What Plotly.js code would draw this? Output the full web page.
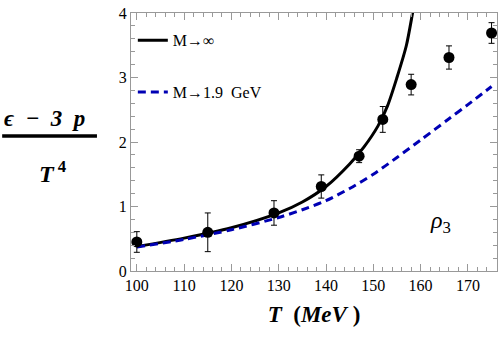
<!DOCTYPE html>
<html>
<head>
<meta charset="utf-8">
<script src="https://cdn.plot.ly/plotly-3.0.1.min.js"></script>
<style>
  html, body { margin: 0; padding: 0; background: #fff; }
  #chart { width: 498px; height: 341px; }
</style>
</head>
<body>
<div id="chart"></div>
<script>
// lattice points with error bars
const tData = [100, 115, 129, 139, 147, 152, 158, 166, 175];
const traceAnomaly = [0.45, 0.6, 0.9, 1.31, 1.78, 2.35, 2.89, 3.31, 3.69];
const traceErr = [0.16, 0.3, 0.19, 0.18, 0.1, 0.2, 0.16, 0.18, 0.16];

// M -> infinity (solid black)
const tInf = [100, 110, 120, 130, 135, 140, 145, 148, 151, 153, 155, 157, 158.3, 158.8];
const yInf = [0.38, 0.51, 0.67, 0.9, 1.07, 1.31, 1.66, 1.92, 2.25, 2.56, 3.0, 3.5, 4.0, 4.2];

// M -> 1.9 GeV (dashed blue)
const tFin = [100, 110, 120, 130, 135, 140, 145, 150, 155, 160, 166, 170, 175];
const yFin = [0.37, 0.49, 0.64, 0.83, 0.95, 1.09, 1.28, 1.5, 1.76, 2.03, 2.36, 2.58, 2.86];

const xTicks = [100, 110, 120, 130, 140, 150, 160, 170];
const yTicks = [0, 1, 2, 3, 4];

const serif = "Liberation Serif, Times New Roman, serif";

Plotly.newPlot("chart", [
  {
    x: tInf, y: yInf,
    name: "M\u2192\u221e",
    type: "scatter", mode: "lines",
    line: { color: "#000", width: 3, shape: "spline", smoothing: 0.8 },
    legendgroup: "a"
  },
  {
    x: tFin, y: yFin,
    name: "M\u21921.9  GeV",
    type: "scatter", mode: "lines",
    line: { color: "#0000b4", width: 3, dash: "8px,5px", shape: "spline", smoothing: 0.8 },
    legendgroup: "b"
  },
  {
    x: tData, y: traceAnomaly,
    type: "scatter", mode: "markers",
    marker: { color: "#000", size: 11 },
    error_y: { type: "data", array: traceErr, color: "#000", thickness: 1, width: 3 },
    showlegend: false
  }
], {
  width: 498, height: 341,
  margin: { l: 131, r: 1, t: 13, b: 70 },
  paper_bgcolor: "#fff",
  plot_bgcolor: "#fff",
  font: { family: serif, color: "#000", size: 16 },
  showlegend: true,
  legend: {
    x: 0.005, y: 0.96, xanchor: "left", yanchor: "top",
    bgcolor: "rgba(0,0,0,0)",
    font: { family: serif, size: 16 },
    tracegroupgap: 28
  },
  xaxis: {
    range: [98.77, 176.15],
    tickvals: xTicks,
    ticks: "inside", ticklen: 7, tickcolor: "#999",
    minor: { dtick: 2, tick0: 100, ticks: "inside", ticklen: 4, tickcolor: "#999" },
    showline: true, linecolor: "#999", linewidth: 1, mirror: "ticks",
    showgrid: false, zeroline: false,
    tickfont: { family: serif, size: 16 },
    title: { text: "<b><i>T</i>  (<i>MeV</i> )</b>", font: { family: serif, size: 23 }, standoff: 12 }
  },
  yaxis: {
    range: [0, 4],
    tickvals: yTicks,
    ticks: "inside", ticklen: 7, tickcolor: "#999",
    minor: { dtick: 0.2, tick0: 0, ticks: "inside", ticklen: 4, tickcolor: "#999" },
    showline: true, linecolor: "#999", linewidth: 1, mirror: "ticks",
    showgrid: false, zeroline: false,
    tickfont: { family: serif, size: 16 }
  },
  shapes: [
    // fraction bar of the y label
    { type: "line", xref: "paper", yref: "paper",
      x0: -0.352, x1: -0.093, y0: 0.523, y1: 0.523,
      line: { color: "#000", width: 3.5 } }
  ],
  annotations: [
    { xref: "paper", yref: "paper", x: -0.237, y: 0.593, xanchor: "center", yanchor: "middle",
      text: "<b><i>\u03f5  \u2212  3  p</i></b>", showarrow: false,
      font: { family: serif, size: 23 } },
    { xref: "paper", yref: "paper", x: -0.213, y: 0.385, xanchor: "center", yanchor: "middle",
      text: "<b><i>T</i><sup> 4</sup></b>", showarrow: false,
      font: { family: serif, size: 24 } },
    { xref: "paper", yref: "paper", x: 0.845, y: 0.19, xanchor: "center", yanchor: "middle",
      text: "<i>\u03c1</i><sub>3</sub>", showarrow: false,
      font: { family: serif, size: 24 } }
  ]
}, { displayModeBar: false, staticPlot: true });
</script>
</body>
</html>
